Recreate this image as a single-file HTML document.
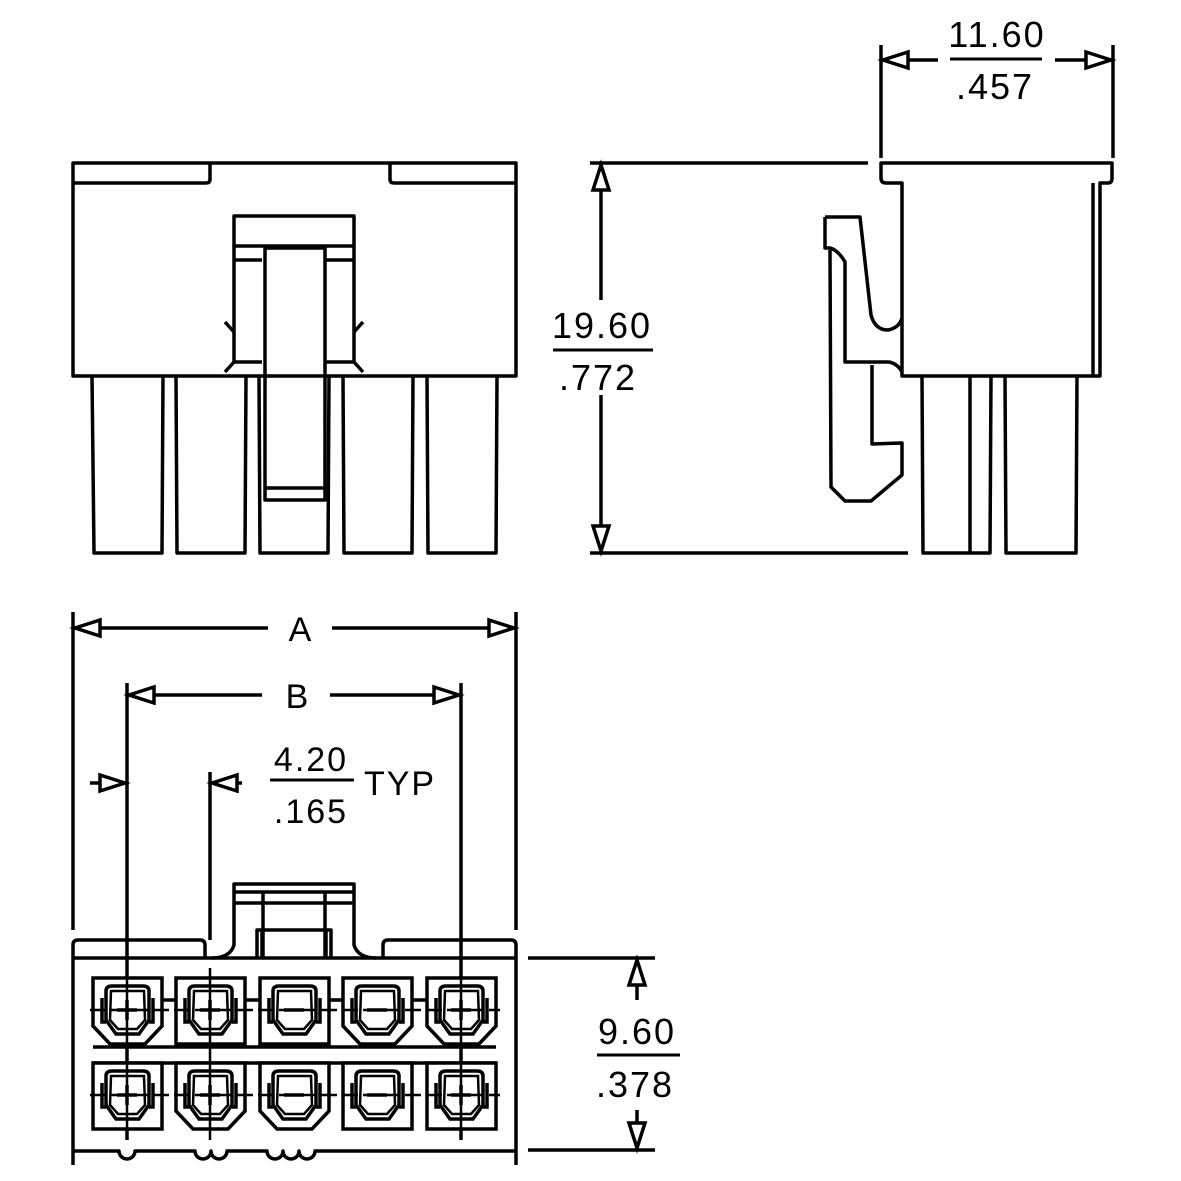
<!DOCTYPE html>
<html><head><meta charset="utf-8"><style>
html,body{margin:0;padding:0;background:#fff;}
svg{display:block;}
text{font-family:"Liberation Sans",sans-serif;fill:#000;}
</style></head><body>
<svg width="1181" height="1181" viewBox="0 0 1181 1181" xmlns="http://www.w3.org/2000/svg">
<defs>
<g id="inner" fill="none" stroke="#000" stroke-width="3.5">
  <path d="M13,13 Q13,8 19,8 L50,8 Q56,8 56,13 L56,42 L46,56 L23,56 L13,42 Z"/>
  <path d="M9,20 L9,44 L13,44 M60,20 L60,44 L56,44"/>
  <path d="M18,13 L51,13 L52,42 L44,51 L25,51 L17,42 Z" stroke-width="2.5"/>
</g>
<g id="cavA"><path d="M0,0 L69,0 L69,48 L52,66 L17,66 L0,48 Z" fill="#fff" stroke="#000" stroke-width="3.5"/><use href="#inner"/></g>
<g id="cavB"><path d="M0,0 L69,0 L69,66 L0,66 Z" fill="#fff" stroke="#000" stroke-width="3.5"/><use href="#inner"/></g>
<g id="plus" stroke="#000" stroke-width="3.5"><line x1="34" y1="22" x2="34" y2="42"/><line x1="24" y1="32" x2="44" y2="32"/></g>
<g id="minus" stroke="#000" stroke-width="3.5"><line x1="24" y1="32" x2="44" y2="32"/></g>
</defs>

<g fill="none" stroke="#000" stroke-width="3.5" stroke-linejoin="round">
<!-- FRONT VIEW -->
<rect x="73" y="163" width="443" height="213"/>
<path d="M73,183 L206,183 Q210,183 210,179 L210,163"/>
<path d="M516,183 L394,183 Q390,183 390,179 L390,163"/>
<rect x="234" y="216" width="120" height="30"/>
<path d="M234,246 L234,362 L262,362 M354,246 L354,362 L326,362"/>
<path d="M234,260 L262,260 M326,260 L354,260"/>
<path d="M225,322 L234,332 M363,322 L354,332 M225,372 L234,362 M363,372 L354,362"/>
<path d="M265,248 L265,500 L325,500 L325,248 Z"/>
<path d="M265,488 L325,488"/>
<path d="M92,376 L94,553 L162,553 L163,376"/>
<path d="M176,376 L177,553 L245,553 L246,376"/>
<path d="M259,376 L260,553 L328,553 L329,376"/>
<path d="M343,376 L344,553 L412,553 L413,376"/>
<path d="M427,376 L428,553 L496,553 L497,376"/>

<!-- SIDE VIEW -->
<path d="M881,163 L1112,163 L1112,178 Q1112,183 1108,183 L1100,183 L1100,376 L902,376 L902,183 L886,183 Q881,183 881,178 Z"/>
<path d="M1093,183 L1093,376"/>
<path d="M922,376 L923,553 L990,553 L991,376 M970,376 L970,553 M1005,376 L1006,553 L1076,553 L1077,376"/>
<path d="M825,217 L860,217 L871,315 Q875,330 888,330 Q899,328 902,318"/>
<path d="M825,217 L825,248 L830,248 Q838,250 845,262 L845,362 L889,362 Q898,364 902,372"/>
<path d="M830,250 L831,487 L845,501 L871,501 L902,475 L902,443 L872,444 L872,365"/>

<!-- dims right -->
<path d="M590,163 L868,163 M590,553 L908,553"/>
<path d="M601,163 L601,300 M601,395 L601,553"/>
<path d="M881,45 L881,158 M1113,45 L1113,158"/>
<path d="M881,60 L938,60 M1055,60 L1113,60"/>
<path d="M553,350 L653,350" stroke-width="3"/>
<path d="M950,59 L1042,59" stroke-width="3"/>

<!-- BOTTOM VIEW -->
<path d="M73,1165 L73,958 L516,958 L516,1165"/>
<path d="M73,958 L73,945 Q73,940 78,940 L200,940 Q205,940 205,945 L205,958"/>
<path d="M516,958 L516,945 Q516,940 511,940 L388,940 Q383,940 383,945 L383,958"/>
<path d="M212,958 Q230,958 234,945 L234,884 L354,884 L354,945 Q358,958 376,958"/>
<path d="M234,892 L354,892 M234,903 L354,903 M263,892 L263,958 M325,892 L325,958"/>
<path d="M257,958 L257,930 L331,930 L331,958 M262,930 L262,958 M326,930 L326,958"/>
<path d="M73,1151 L119,1151 A8,8 0 0 0 135,1151 L195,1151 A8,8 0 0 0 211,1151 A8,8 0 0 0 227,1151 L267,1151 A8,8 0 0 0 283,1151 A8,8 0 0 0 299,1151 A8,8 0 0 0 315,1151 L516,1151"/>
<path d="M162,1000 L176,1000 M245,1000 L260,1000 M328,1000 L343,1000 M412,1000 L427,1000 M93,1047 L496,1047 M93,1063 L496,1063"/>

<!-- dims bottom -->
<path d="M73,612 L73,930 M516,612 L516,930"/>
<path d="M73,628 L268,628 M332,628 L516,628"/>
<path d="M127,683 L127,1140 M461,683 L461,1140 M210,772 L210,940"/>
<path d="M127,695 L262,695 M330,695 L461,695"/>
<path d="M90,783 L127,783 M210,783 L242,783"/>
<path d="M270,780 L354,780" stroke-width="3"/>
<path d="M528,958 L655,958 M528,1150 L655,1150"/>
<path d="M637,958 L637,1000 M637,1110 L637,1150"/>
<path d="M597,1055 L680,1055" stroke-width="3"/>
</g>

<!-- arrowheads -->
<g fill="#fff" stroke="#000" stroke-width="3.5" stroke-linejoin="miter">
<path d="M601,165 L593,190 L609,190 Z"/>
<path d="M601,551 L593,526 L609,526 Z"/>
<path d="M883,60 L908,52 L908,68 Z"/>
<path d="M1111,60 L1086,52 L1086,68 Z"/>
<path d="M75,628 L100,620 L100,636 Z"/>
<path d="M514,628 L489,620 L489,636 Z"/>
<path d="M129,695 L154,687 L154,703 Z"/>
<path d="M459,695 L434,687 L434,703 Z"/>
<path d="M125,783 L100,775 L100,791 Z"/>
<path d="M212,783 L237,775 L237,791 Z"/>
<path d="M637,960 L629,985 L645,985 Z"/>
<path d="M637,1148 L629,1123 L645,1123 Z"/>
</g>

<!-- cavities -->
<use href="#cavA" x="93" y="978"/><use href="#cavB" x="176" y="978"/><use href="#cavB" x="260" y="978"/><use href="#cavA" x="343" y="978"/><use href="#cavA" x="427" y="978"/>
<use href="#cavB" x="93" y="1063"/><use href="#cavA" x="176" y="1063"/><use href="#cavA" x="260" y="1063"/><use href="#cavB" x="343" y="1063"/><use href="#cavB" x="427" y="1063"/>
<use href="#plus" x="93" y="978"/><use href="#plus" x="176" y="978"/><use href="#minus" x="260" y="978"/><use href="#minus" x="343" y="978"/><use href="#plus" x="427" y="978"/>
<use href="#plus" x="93" y="1063"/><use href="#plus" x="176" y="1063"/><use href="#minus" x="260" y="1063"/><use href="#minus" x="343" y="1063"/><use href="#plus" x="427" y="1063"/>
<g stroke="#000" stroke-width="2.5" stroke-dasharray="16,5">
<path d="M90,1010 L500,1010 M90,1095 L500,1095"/>
</g>
<g stroke="#000" stroke-width="2.5">
<path d="M127,968 L127,1140 M210,968 L210,1140 M461,968 L461,1140"/>
</g>

<!-- text -->
<text x="997" y="47" font-size="36" text-anchor="middle" letter-spacing="2">11.60</text>
<text x="995" y="99" font-size="36" text-anchor="middle" letter-spacing="2">.457</text>
<text x="602" y="338" font-size="36" text-anchor="middle" letter-spacing="2">19.60</text>
<text x="598" y="390" font-size="36" text-anchor="middle" letter-spacing="2">.772</text>
<text x="300" y="641" font-size="34" text-anchor="middle">A</text>
<text x="297" y="708" font-size="34" text-anchor="middle">B</text>
<text x="311" y="771" font-size="34" text-anchor="middle" letter-spacing="2">4.20</text>
<text x="311" y="823" font-size="34" text-anchor="middle" letter-spacing="2">.165</text>
<text x="400" y="795" font-size="34" text-anchor="middle" letter-spacing="2">TYP</text>
<text x="637" y="1044" font-size="36" text-anchor="middle" letter-spacing="2">9.60</text>
<text x="635" y="1097" font-size="36" text-anchor="middle" letter-spacing="2">.378</text>
</svg>
</body></html>
